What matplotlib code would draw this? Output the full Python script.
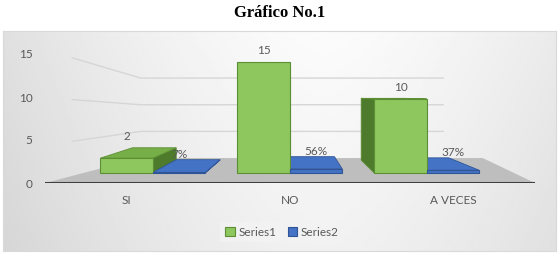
import numpy as np
import matplotlib
matplotlib.use("Agg")
import matplotlib.pyplot as plt
from matplotlib.patches import Polygon

# ---- data ----
categories = ["SI", "NO", "A VECES"]
series1 = [2, 15, 10]
series2 = [0.07, 0.56, 0.37]
series_names = ["Series1", "Series2"]
yticks = [0, 5, 10, 15]
title = "Gráfico No.1"

W, H = 560, 254
fig = plt.figure(figsize=(W / 100, H / 100), dpi=100)
fig.patch.set_facecolor("white")


def px_axes(x0, x1, ytop, ybot, **kw):
    return fig.add_axes([x0 / W, 1 - ybot / H, (x1 - x0) / W, (ybot - ytop) / H], **kw)


# ---- chart area background (gradient) ----
bg = px_axes(3, 556, 31, 251)
gx = np.linspace(0, 1, 300)
gy = np.linspace(0, 1, 120)
GX, GY = np.meshgrid(gx, gy)
grad = 0.985 - 0.24 * np.abs(GX - 0.58) ** 1.5 - 0.04 * GY
bg.imshow(grad, cmap="gray", vmin=0, vmax=1, aspect="auto", extent=[0, 1, 0, 1])
bg.set_xlim(0, 1)
bg.set_ylim(0, 1)
bg.set_xticks([])
bg.set_yticks([])
for s in bg.spines.values():
    s.set_color("#D9D9D9")
    s.set_linewidth(0.8)

fig.text(280 / W, 1 - 13 / H, title, ha="center", va="center",
         fontsize=12, fontweight="bold", family="Liberation Serif", color="black")

# ---- value axis (ticks, walls, floor) ----
ax = px_axes(45, 535, 54, 183)
ax.set_facecolor("none")
ax.set_xlim(-0.5, 2.5)
ax.set_ylim(0, 15)
for s in ax.spines.values():
    s.set_visible(False)
ax.set_yticks(yticks)
ax.set_xticks(range(len(categories)))
ax.set_xticklabels(categories)
ax.tick_params(axis="y", length=0, pad=9, labelsize=8.5, labelcolor="#595959")
ax.tick_params(axis="x", length=0, pad=9, labelsize=8.5, labelcolor="#595959")
for lbl in ax.get_xticklabels() + ax.get_yticklabels():
    lbl.set_family("Lato")

# perspective floor / wall geometry (in ax data units)
wall_x0, back_x0, back_x1 = -0.333, 0.086, 1.938
floor_back_y = 2.9
floor_back_x1 = 2.18
for v in yticks[1:]:
    yb = floor_back_y + 0.62 * v
    ax.plot([wall_x0, back_x0, back_x1], [v * 0.97, yb, yb], color="#D6D6D6", lw=1.0, zorder=1)
floor = Polygon([(-0.5, 0), (2.5, 0), (floor_back_x1, floor_back_y), (back_x0, floor_back_y)],
                closed=True, facecolor="#BEBEBE", edgecolor="none", zorder=1.5)
ax.add_patch(floor)
ax.axhline(0, xmin=0, xmax=0.995, color="#3F3F3F", lw=2.2, zorder=2)

# ---- bar axis (bars sit deeper in the 3D scene: narrower category spacing) ----
ax2 = px_axes(45, 535, 54, 183)
ax2.set_xlim(-(152.75 - 45) / 137, (535 - 152.75) / 137)
ax2.set_ylim(-1.35, 16.08)
ax2.set_facecolor("none")
ax2.axis("off")

VP = ((295 - 152.75) / 137, (173 - 95) / 7.4)
K = 0.165


def back(p):
    return (p[0] + K * (VP[0] - p[0]), p[1] + K * (VP[1] - p[1]))


x = np.arange(len(categories))
bw = 0.383
styles = [
    dict(front="#8DC75E", side="#4E7A2C", top="#76AE47", edge="#5C8F34"),
    dict(front="#4472C4", side="#2F5597", top="#4472C4", edge="#2F5597"),
]
containers = []
for si, (vals, off) in enumerate([(series1, -bw / 2), (series2, bw / 2)]):
    st = styles[si]
    bars = ax2.bar(x + off, vals, width=bw, color=st["front"], edgecolor=st["edge"],
                   linewidth=0.8, zorder=5, label=series_names[si])
    containers.append(bars)
    for b in bars:
        x0, x1, h = b.get_x(), b.get_x() + b.get_width(), b.get_height()
        fl, fr, tl, tr = (x0, 0), (x1, 0), (x0, h), (x1, h)
        bfl, bfr, btl, btr = back(fl), back(fr), back(tl), back(tr)
        # side faces
        if bfl[0] < x0:
            ax2.add_patch(Polygon([fl, tl, btl, bfl], facecolor=st["side"],
                                  edgecolor=st["edge"], lw=0.6, zorder=4))
        if bfr[0] > x1:
            ax2.add_patch(Polygon([fr, tr, btr, bfr], facecolor=st["side"],
                                  edgecolor=st["edge"], lw=0.6, zorder=4))
        # top face
        if btl[1] > h:
            ax2.add_patch(Polygon([tl, tr, btr, btl], facecolor=st["top"],
                                  edgecolor=st["edge"], lw=0.6, zorder=4.5))
        # data label
        ly = max(h, btl[1])
        txt = f"{h:g}" if si == 0 else f"{h:.0%}"
        ax2.annotate(txt, ((x0 + x1) / 2, ly), xytext=(0, 4 if si == 0 else 0),
                     textcoords="offset points", ha="center", va="bottom",
                     fontsize=8.5, color="#595959", family="Lato", zorder=6)

leg = fig.legend(handles=containers, labels=series_names, loc="center",
                 bbox_to_anchor=(282 / W, 1 - 232 / H), ncol=2, frameon=True,
                 facecolor="#F3F3F3", edgecolor="none", fontsize=8.5,
                 handlelength=0.8, handleheight=0.8, handletextpad=0.3,
                 columnspacing=1.0, borderpad=0.4, labelcolor="#595959",
                 prop={"family": "Lato", "size": 8.5})
leg.get_frame().set_alpha(0.8)

fig.savefig("out.png", dpi=100)
